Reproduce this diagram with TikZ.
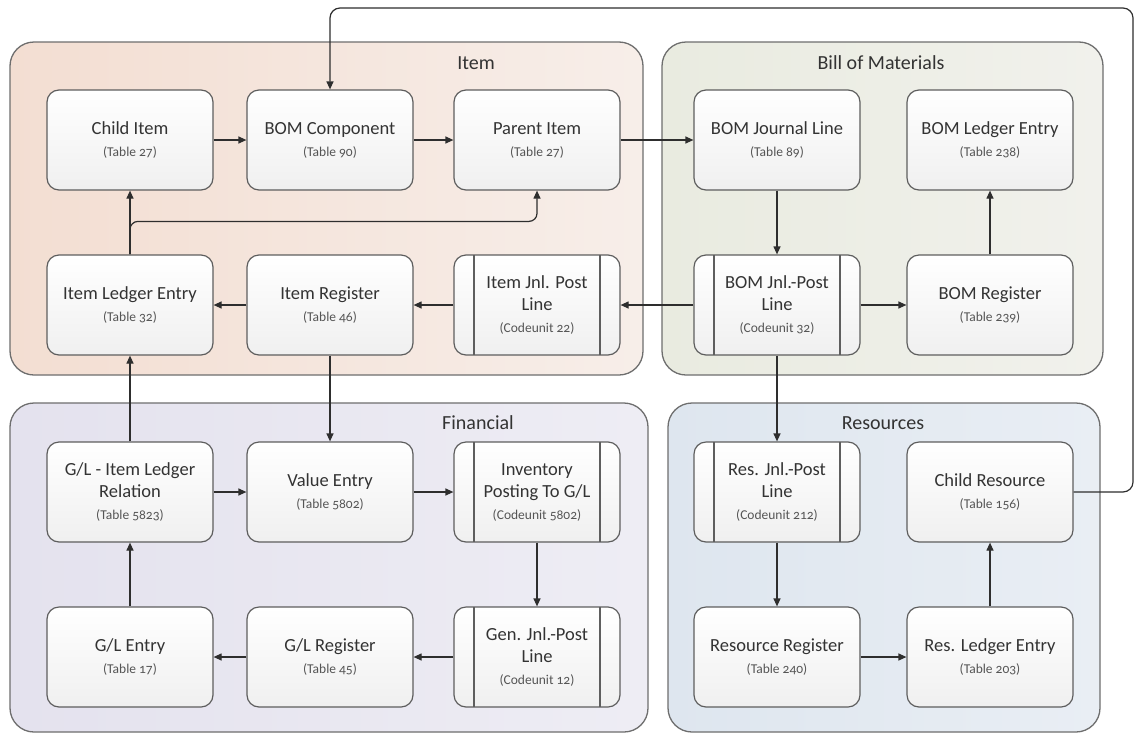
\documentclass[tikz,border=0pt]{standalone}
\usepackage{fontspec}
\setmainfont{Carlito}[Numbers=OldStyle]
\usetikzlibrary{arrows.meta,calc}

\definecolor{itemL}{HTML}{F3DED2}
\definecolor{itemR}{HTML}{F7EEE9}
\definecolor{bomL}{HTML}{E9EBE0}
\definecolor{bomR}{HTML}{F1F1EC}
\definecolor{finL}{HTML}{E4E2EE}
\definecolor{finR}{HTML}{EEEDF4}
\definecolor{resL}{HTML}{DEE6EF}
\definecolor{resR}{HTML}{E9EEF4}
\definecolor{grpline}{HTML}{6E6E6E}
\definecolor{boxline}{HTML}{5E5E5E}
\definecolor{titletext}{HTML}{333333}
\definecolor{subtext}{HTML}{555555}
\definecolor{wire}{HTML}{2E2E2E}

\newcommand\subnote[1]{{\fontsize{13.5}{15}\selectfont\color{subtext}(#1)}}

\tikzset{
  grp/.style={draw=grpline, line width=1.3pt, rounded corners=24pt},
  grplabel/.style={font=\fontsize{20}{24}\selectfont, text=titletext},
  box/.style={draw=boxline, line width=1.2pt, rounded corners=12pt,
    minimum width=166pt, minimum height=100pt, inner sep=2pt,
    top color=white, bottom color=black!6, align=center,
    font=\fontsize{18.5}{22}\selectfont, text=titletext},
  procbox/.style={box, path picture={
    \draw[boxline, line width=1.2pt]
      ([xshift=20pt]path picture bounding box.north west) --
      ([xshift=20pt]path picture bounding box.south west);
    \draw[boxline, line width=1.2pt]
      ([xshift=-20pt]path picture bounding box.north east) --
      ([xshift=-20pt]path picture bounding box.south east);}},
  arr/.style={draw=wire, line width=1.2pt, -{Triangle[length=8pt,width=7pt]}}
}

\begin{document}
\begin{tikzpicture}[x=1pt,y=-1pt]
\useasboundingbox[fill=white] (0,0) rectangle (1142,734);

% group panels
\draw[grp, left color=itemL, right color=itemR] (10,42) rectangle (643,375);
\draw[grp, left color=bomL, right color=bomR] (662,42) rectangle (1103,375);
\draw[grp, left color=finL, right color=finR] (10,403) rectangle (648,732);
\draw[grp, left color=resL, right color=resR] (668,403) rectangle (1100,732);

\node[grplabel] (lblitem) at (476,63) {Item};
\node[grplabel] (lblbom) at (881,63) {Bill of Materials};
\node[grplabel] (lblfin) at (478,423) {Financial};
\node[grplabel] (lblres) at (883,423) {Resources};

% Item
\node[box] (child) at (130,140) {Child Item\\\subnote{Table 27}};
\node[box] (bomc) at (330,140) {BOM Component\\\subnote{Table 90}};
\node[box] (parent) at (537,140) {Parent Item\\\subnote{Table 27}};
\node[box] (ile) at (130,305) {Item Ledger Entry\\\subnote{Table 32}};
\node[box] (itemreg) at (330,305) {Item Register\\\subnote{Table 46}};
\node[procbox] (itemjp) at (537,305) {Item Jnl. Post\\Line\\\subnote{Codeunit 22}};

% Bill of Materials
\node[box] (bomjl) at (777,140) {BOM Journal Line\\\subnote{Table 89}};
\node[box] (bomle) at (990,140) {BOM Ledger Entry\\\subnote{Table 238}};
\node[procbox] (bomjp) at (777,305) {BOM Jnl.-Post\\Line\\\subnote{Codeunit 32}};
\node[box] (bomreg) at (990,305) {BOM Register\\\subnote{Table 239}};

% Financial
\node[box] (glrel) at (130,492) {G/L - Item Ledger\\Relation\\\subnote{Table 5823}};
\node[box] (value) at (330,492) {Value Entry\\\subnote{Table 5802}};
\node[procbox] (invpost) at (537,492) {Inventory\\Posting To G/L\\\subnote{Codeunit 5802}};
\node[box] (glentry) at (130,657) {G/L Entry\\\subnote{Table 17}};
\node[box] (glreg) at (330,657) {G/L Register\\\subnote{Table 45}};
\node[procbox] (genjp) at (537,657) {Gen. Jnl.-Post\\Line\\\subnote{Codeunit 12}};

% Resources
\node[procbox] (resjp) at (777,492) {Res. Jnl.-Post\\Line\\\subnote{Codeunit 212}};
\node[box] (childres) at (990,492) {Child Resource\\\subnote{Table 156}};
\node[box] (resreg) at (777,657) {Resource Register\\\subnote{Table 240}};
\node[box] (resle) at (990,657) {Res. Ledger Entry\\\subnote{Table 203}};

% connectors
\draw[arr] (child) -- (bomc);
\draw[arr] (bomc) -- (parent);
\draw[arr] (parent) -- (bomjl);
\draw[arr] (bomjl) -- (bomjp);
\draw[arr] (bomjp) -- (bomreg);
\draw[arr] (bomreg) -- (bomle);
\draw[arr] (bomjp) -- (itemjp);
\draw[arr] (itemjp) -- (itemreg);
\draw[arr] (itemreg) -- (ile);
\draw[arr] (ile) -- (child);
\draw[arr, rounded corners=8pt] (ile.north) -- ++(0,-33) -| (parent.south);
\draw[arr] (itemreg) -- (value);
\draw[arr] (bomjp) -- (resjp);
\draw[arr] (resjp) -- (resreg);
\draw[arr] (resreg) -- (resle);
\draw[arr] (resle) -- (childres);
\coordinate (loop) at (1133,8);
\draw[arr, rounded corners=10pt] (childres.east) -| (loop) -| (bomc.north);
\draw[arr] (glrel) -- (ile);
\draw[arr] (glrel) -- (value);
\draw[arr] (value) -- (invpost);
\draw[arr] (invpost) -- (genjp);
\draw[arr] (genjp) -- (glreg);
\draw[arr] (glreg) -- (glentry);
\draw[arr] (glentry) -- (glrel);
\end{tikzpicture}
\end{document}
